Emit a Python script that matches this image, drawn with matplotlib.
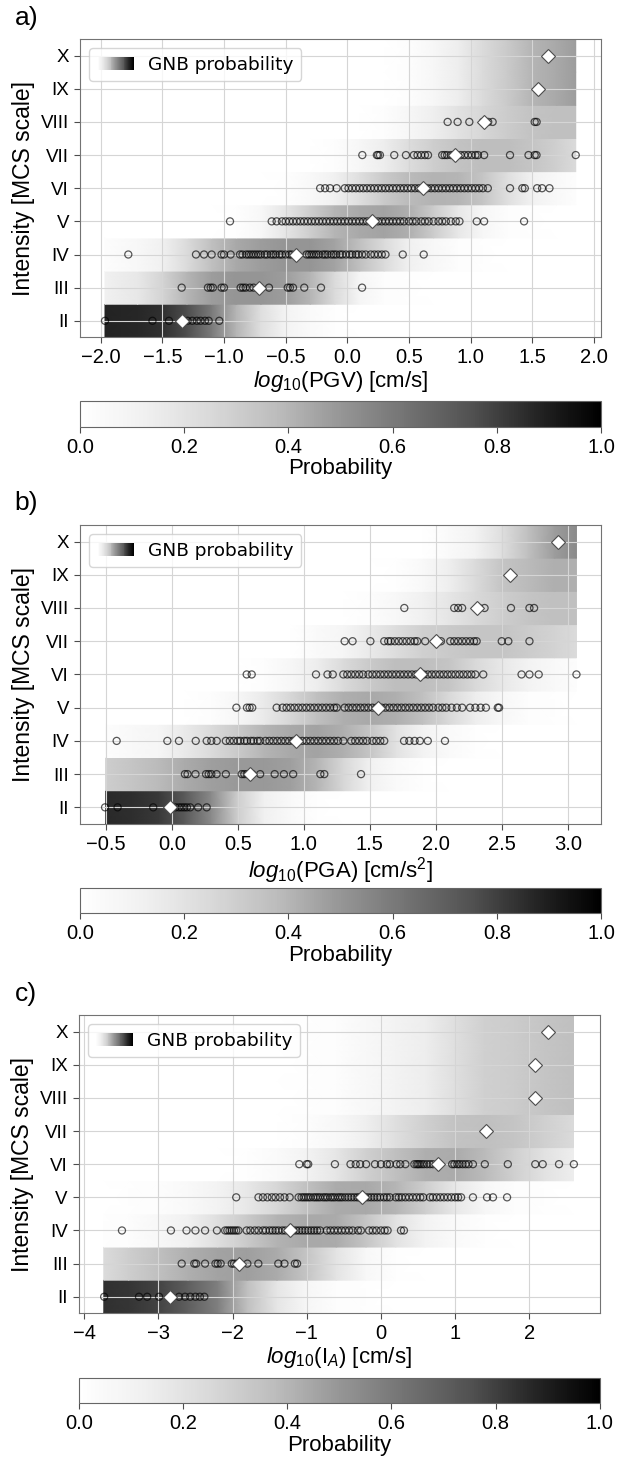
import numpy as np
import matplotlib
matplotlib.use('Agg')
import matplotlib.pyplot as plt
from matplotlib.patches import Rectangle
from matplotlib.legend_handler import HandlerBase
from matplotlib.cm import ScalarMappable
from matplotlib.colors import Normalize

plt.rcParams['font.family'] = ['Liberation Sans', 'DejaVu Sans']
plt.rcParams['mathtext.fontset'] = 'custom'
plt.rcParams['mathtext.rm'] = 'Liberation Sans'
plt.rcParams['mathtext.it'] = 'Liberation Sans:italic'

intensity = ['II', 'III', 'IV', 'V', 'VI', 'VII', 'VIII', 'IX', 'X']

# ---- a) PGV ----
pgv_grid = [-1.965, -1.7, -1.5, -1.3, -1.1, -0.9, -0.7, -0.5, -0.3, -0.1,
            0.1, 0.3, 0.5, 0.7, 0.9, 1.1, 1.3, 1.5, 1.7, 1.853]
pgv_prob = [
    [0.88, 0.87, 0.84, 0.76, 0.60, 0.40, 0.22, 0.09, 0.04, 0.01, 0, 0, 0, 0, 0, 0, 0, 0, 0, 0],
    [0.12, 0.17, 0.27, 0.40, 0.48, 0.50, 0.50, 0.48, 0.40, 0.24, 0.08, 0.02, 0.01, 0, 0, 0, 0, 0, 0, 0],
    [0.02, 0.06, 0.12, 0.24, 0.36, 0.44, 0.48, 0.50, 0.50, 0.46, 0.36, 0.24, 0.12, 0.06, 0.02, 0.01, 0, 0, 0, 0],
    [0, 0, 0, 0, 0, 0.01, 0.06, 0.18, 0.30, 0.40, 0.44, 0.46, 0.42, 0.31, 0.17, 0.07, 0.02, 0.01, 0, 0],
    [0, 0, 0, 0, 0, 0, 0, 0.01, 0.05, 0.12, 0.22, 0.32, 0.38, 0.41, 0.40, 0.34, 0.22, 0.11, 0.05, 0.02],
    [0, 0, 0, 0, 0, 0, 0, 0, 0, 0.02, 0.07, 0.14, 0.23, 0.30, 0.35, 0.37, 0.37, 0.34, 0.29, 0.24],
    [0, 0, 0, 0, 0, 0, 0, 0, 0, 0, 0, 0.02, 0.07, 0.13, 0.20, 0.26, 0.31, 0.35, 0.36, 0.36],
    [0, 0, 0, 0, 0, 0, 0, 0, 0, 0, 0, 0, 0.02, 0.07, 0.14, 0.24, 0.32, 0.40, 0.44, 0.48],
    [0, 0, 0, 0, 0, 0, 0, 0, 0, 0, 0, 0, 0.02, 0.07, 0.14, 0.24, 0.32, 0.40, 0.44, 0.48],
]
pgv_pts = [
    [-1.965, -1.58, -1.446, -1.295, -1.257, -1.22, -1.19, -1.154, -1.124, -1.038],
    [-1.343, -1.13, -1.108, -1.09, -1.02, -1.0, -0.865, -0.845, -0.824, -0.79, -0.76,
     -0.635, -0.483, -0.465, -0.44, -0.349, -0.213, 0.12],
    [-1.776, -1.227, -1.162, -1.10, -1.02, -1.0, -0.946, -0.87, -0.85, -0.82, -0.80, -0.78,
     -0.76, -0.74, -0.72, -0.70, -0.67, -0.65, -0.62, -0.60, -0.58, -0.55, -0.53, -0.50,
     -0.47, -0.45, -0.33, -0.31, -0.29, -0.27, -0.25, -0.23, -0.20, -0.18, -0.16, -0.13,
     -0.11, -0.09, -0.06, -0.04, -0.01, 0.02, 0.04, 0.07, 0.09, 0.12, 0.15, 0.19, 0.22,
     0.25, 0.28, 0.31, 0.45, 0.62],
    [-0.951, -0.613, -0.573, -0.53, -0.5, -0.47, -0.44, -0.41, -0.38, -0.35, -0.32, -0.29,
     -0.26, -0.23, -0.2, -0.17, -0.14, -0.11, -0.08, -0.05, -0.02, 0.01, 0.04, 0.07, 0.1,
     0.13, 0.16, 0.22, 0.25, 0.28, 0.31, 0.34, 0.37, 0.4, 0.43, 0.46, 0.5, 0.53, 0.56, 0.6,
     0.63, 0.66, 0.7, 0.74, 0.77, 0.8, 0.84, 0.88, 0.91, 1.05, 1.11, 1.434],
    [-0.22, -0.18, -0.14, -0.086, -0.02, 0.01, 0.04, 0.07, 0.1, 0.13, 0.16, 0.19, 0.22,
     0.25, 0.28, 0.31, 0.34, 0.37, 0.4, 0.43, 0.46, 0.49, 0.52, 0.55, 0.58, 0.65, 0.68,
     0.71, 0.74, 0.77, 0.8, 0.83, 0.86, 0.89, 0.92, 0.95, 0.98, 1.01, 1.04, 1.07, 1.1,
     1.14, 1.32, 1.42, 1.44, 1.54, 1.58, 1.64],
    [0.122, 0.24, 0.25, 0.265, 0.381, 0.476, 0.54, 0.57, 0.60, 0.63, 0.655, 0.77, 0.79,
     0.81, 0.84, 0.86, 0.89, 0.92, 0.95, 0.98, 1.01, 1.04, 1.06, 1.11, 1.32, 1.47, 1.52,
     1.535, 1.853],
    [0.814, 0.895, 0.99, 1.10, 1.143, 1.179, 1.52, 1.536],
    [],
    [],
]
pgv_mean = [-1.34, -0.714, -0.418, 0.198, 0.616, 0.87, 1.111, 1.546, 1.632]

# ---- b) PGA ----
pga_grid = [-0.5, -0.3, -0.1, 0.1, 0.3, 0.5, 0.7, 0.9, 1.1, 1.3, 1.5, 1.7, 1.9, 2.1,
            2.3, 2.5, 2.7, 2.9, 3.066]
pga_prob = [
    [0.86, 0.85, 0.82, 0.72, 0.54, 0.30, 0.12, 0.05, 0.01, 0, 0, 0, 0, 0, 0, 0, 0, 0, 0],
    [0.30, 0.34, 0.38, 0.43, 0.47, 0.49, 0.49, 0.47, 0.40, 0.26, 0.12, 0.04, 0.01, 0, 0, 0, 0, 0, 0],
    [0.02, 0.05, 0.08, 0.16, 0.24, 0.32, 0.40, 0.44, 0.46, 0.42, 0.34, 0.20, 0.10, 0.04, 0.01, 0, 0, 0, 0],
    [0, 0, 0, 0, 0.02, 0.07, 0.16, 0.26, 0.36, 0.42, 0.44, 0.42, 0.36, 0.25, 0.14, 0.06, 0.02, 0.01, 0],
    [0, 0, 0, 0, 0, 0, 0.02, 0.07, 0.14, 0.24, 0.32, 0.37, 0.37, 0.34, 0.25, 0.17, 0.10, 0.05, 0.02],
    [0, 0, 0, 0, 0, 0, 0, 0, 0.04, 0.08, 0.16, 0.23, 0.29, 0.32, 0.34, 0.34, 0.31, 0.28, 0.24],
    [0, 0, 0, 0, 0, 0, 0, 0, 0, 0, 0.02, 0.06, 0.12, 0.18, 0.25, 0.30, 0.34, 0.36, 0.36],
    [0, 0, 0, 0, 0, 0, 0, 0, 0, 0, 0, 0.01, 0.05, 0.13, 0.24, 0.34, 0.38, 0.42, 0.42],
    [0, 0, 0, 0, 0, 0, 0, 0, 0, 0, 0, 0, 0, 0.04, 0.10, 0.22, 0.36, 0.48, 0.54],
]
pga_pts = [
    [-0.505, -0.41, -0.14, -0.01, 0.03, 0.055, 0.075, 0.095, 0.115, 0.14, 0.2, 0.265],
    [0.10, 0.12, 0.18, 0.26, 0.28, 0.30, 0.34, 0.41, 0.53, 0.55, 0.57, 0.61, 0.67, 0.78,
     0.85, 0.92, 1.126, 1.156, 1.434],
    [-0.417, -0.033, 0.055, 0.182, 0.265, 0.30, 0.341, 0.41, 0.44, 0.47, 0.50, 0.52, 0.55,
     0.57, 0.60, 0.62, 0.65, 0.67, 0.71, 0.74, 0.77, 0.80, 0.83, 0.86, 0.89, 0.92, 0.96,
     0.99, 1.02, 1.05, 1.08, 1.11, 1.14, 1.17, 1.20, 1.23, 1.26, 1.30, 1.36, 1.39, 1.42,
     1.45, 1.48, 1.52, 1.55, 1.58, 1.61, 1.76, 1.80, 1.84, 1.88, 1.94, 2.07],
    [0.49, 0.57, 0.59, 0.61, 0.795, 0.84, 0.87, 0.90, 0.93, 0.96, 0.99, 1.02, 1.05, 1.08,
     1.11, 1.14, 1.17, 1.20, 1.23, 1.25, 1.31, 1.34, 1.37, 1.40, 1.43, 1.46, 1.49, 1.52,
     1.55, 1.59, 1.62, 1.65, 1.68, 1.71, 1.74, 1.77, 1.80, 1.83, 1.86, 1.89, 1.92, 1.95,
     1.98, 2.02, 2.05, 2.08, 2.12, 2.16, 2.20, 2.26, 2.30, 2.34, 2.38, 2.47, 2.48],
    [0.568, 0.606, 1.093, 1.18, 1.22, 1.30, 1.33, 1.36, 1.39, 1.42, 1.45, 1.49, 1.52, 1.55,
     1.58, 1.61, 1.64, 1.67, 1.70, 1.73, 1.76, 1.79, 1.82, 1.85, 1.91, 1.94, 1.97, 2.0,
     2.03, 2.06, 2.09, 2.12, 2.15, 2.18, 2.21, 2.24, 2.27, 2.30, 2.36, 2.65, 2.71, 2.78,
     3.066],
    [1.31, 1.37, 1.505, 1.61, 1.64, 1.66, 1.69, 1.72, 1.75, 1.78, 1.81, 1.84, 1.86, 1.92,
     2.04, 2.11, 2.14, 2.17, 2.20, 2.23, 2.26, 2.29, 2.31, 2.50, 2.55, 2.71],
    [1.762, 2.14, 2.17, 2.2, 2.33, 2.37, 2.57, 2.71, 2.745],
    [],
    [],
]
pga_mean = [-0.01, 0.593, 0.94, 1.56, 1.884, 2.0, 2.31, 2.56, 2.928]

# ---- c) Arias intensity ----
ia_grid = [-3.735, -3.4, -3.0, -2.6, -2.2, -1.8, -1.4, -1.0, -0.6, -0.2, 0.2, 0.6, 1.0,
           1.4, 1.8, 2.2, 2.595]
ia_prob = [
    [0.84, 0.83, 0.79, 0.70, 0.58, 0.36, 0.18, 0.07, 0.02, 0.01, 0, 0, 0, 0, 0, 0, 0],
    [0.24, 0.30, 0.36, 0.42, 0.46, 0.47, 0.43, 0.34, 0.19, 0.06, 0.01, 0, 0, 0, 0, 0, 0],
    [0.01, 0.02, 0.06, 0.12, 0.22, 0.32, 0.41, 0.44, 0.43, 0.34, 0.20, 0.10, 0.04, 0.01, 0, 0, 0],
    [0, 0.01, 0.02, 0.05, 0.10, 0.17, 0.26, 0.36, 0.43, 0.44, 0.40, 0.30, 0.17, 0.07, 0.02, 0.01, 0],
    [0, 0, 0, 0, 0, 0.01, 0.04, 0.10, 0.18, 0.29, 0.36, 0.42, 0.43, 0.38, 0.29, 0.20, 0.14],
    [0, 0, 0, 0, 0, 0, 0, 0.02, 0.06, 0.13, 0.22, 0.29, 0.35, 0.36, 0.34, 0.29, 0.24],
    [0, 0, 0, 0, 0, 0, 0, 0.01, 0.02, 0.06, 0.10, 0.14, 0.22, 0.29, 0.31, 0.34, 0.36],
    [0, 0, 0, 0, 0, 0, 0, 0.01, 0.02, 0.06, 0.10, 0.14, 0.22, 0.29, 0.31, 0.34, 0.36],
    [0, 0, 0, 0, 0, 0, 0, 0.01, 0.02, 0.06, 0.10, 0.14, 0.22, 0.29, 0.31, 0.34, 0.36],
]
ia_pts = [
    [-3.73, -3.26, -3.15, -2.99, -2.72, -2.64, -2.57, -2.5, -2.44, -2.38],
    [-2.685, -2.515, -2.49, -2.37, -2.23, -2.2, -2.16, -2.01, -1.98, -1.94, -1.8, -1.652,
     -1.383, -1.3, -1.16, -1.13],
    [-3.49, -2.83, -2.62, -2.5, -2.37, -2.21, -2.10, -2.07, -2.04, -2.01, -1.98, -1.95,
     -1.92, -1.81, -1.76, -1.70, -1.65, -1.59, -1.55, -1.50, -1.46, -1.42, -1.38, -1.33,
     -1.29, -1.18, -1.14, -1.10, -1.06, -1.02, -0.98, -0.94, -0.90, -0.86, -0.82, -0.73,
     -0.68, -0.63, -0.58, -0.53, -0.48, -0.43, -0.38, -0.31, -0.27, -0.16, -0.11, -0.06,
     0.0, 0.05, 0.09, 0.27, 0.31],
    [-1.95, -1.65, -1.59, -1.53, -1.47, -1.42, -1.36, -1.30, -1.23, -1.11, -1.07, -1.04,
     -1.01, -0.98, -0.95, -0.91, -0.88, -0.85, -0.82, -0.78, -0.75, -0.72, -0.68, -0.65,
     -0.62, -0.58, -0.55, -0.52, -0.48, -0.44, -0.40, -0.36, -0.32, -0.29, -0.21, -0.17,
     -0.13, -0.09, -0.05, -0.01, 0.04, 0.08, 0.12, 0.20, 0.24, 0.28, 0.33, 0.38, 0.43,
     0.48, 0.53, 0.57, 0.66, 0.70, 0.75, 0.80, 0.85, 0.90, 0.95, 1.0, 1.04, 1.08, 1.24,
     1.43, 1.51, 1.70],
    [-1.1, -1.0, -0.98, -0.62, -0.41, -0.34, -0.28, -0.2, -0.08, 0.0, 0.08, 0.12, 0.21,
     0.26, 0.33, 0.45, 0.48, 0.5, 0.52, 0.55, 0.58, 0.62, 0.66, 0.70, 0.96, 0.99, 1.03,
     1.06, 1.1, 1.14, 1.18, 1.24, 1.40, 1.71, 2.08, 2.18, 2.40, 2.60],
    [],
    [],
    [],
    [],
]
ia_mean = [-2.84, -1.91, -1.225, -0.254, 0.77, 1.41, 2.07, 2.07, 2.245]


class GradientHandler(HandlerBase):
    # draws the legend key as a white -> black strip
    def create_artists(self, legend, orig_handle, xdescent, ydescent, width, height,
                       fontsize, trans):
        cmap = plt.get_cmap('Greys')
        n = 40
        arts = []
        for i in range(n):
            r = Rectangle((-xdescent + i * width / n, -ydescent), width / n * 1.05, height,
                          facecolor=cmap(i / (n - 1)), edgecolor='none', transform=trans)
            arts.append(r)
        return arts


def draw_panel(ax, cax, grid_x, prob, pts, means, xlim, xticks, xlabel):
    for i in range(len(intensity)):
        p = np.array(prob[i], dtype=float)
        ax.pcolormesh(grid_x, [i - 0.5, i + 0.5], np.vstack([p, p]), shading='gouraud',
                      cmap='Greys', vmin=0, vmax=1, zorder=0.5)
        if len(pts[i]) > 0:
            ax.scatter(pts[i], [i] * len(pts[i]), s=26, facecolors='none',
                       edgecolors='k', linewidths=0.9, alpha=0.65, zorder=3)
    ax.plot(means, range(len(intensity)), 'D', ls='none', ms=7, mfc='white',
            mec='0.3', mew=0.8, zorder=4)

    ax.set_xlim(xlim)
    ax.set_ylim(-0.5, len(intensity) - 0.5)
    ax.set_yticks(range(len(intensity)))
    ax.set_yticklabels(intensity)
    ax.set_xticks(xticks)
    ax.grid(True, color='#d5d5d5', linewidth=0.8)
    ax.tick_params(axis='x', labelsize=14.5, length=4.5, width=0.8, color='0.3')
    ax.tick_params(axis='y', labelsize=13.5, length=4.5, width=0.8, color='0.3')
    for s in ax.spines.values():
        s.set_color('0.45')
        s.set_linewidth(0.8)
    ax.set_xlabel(xlabel, fontsize=16, labelpad=1)
    ax.set_ylabel('Intensity [MCS scale]', fontsize=16.5, labelpad=4)

    proxy = Rectangle((0, 0), 1, 1)
    ax.legend([proxy], ['GNB probability'], handler_map={proxy: GradientHandler()},
              loc='upper left', prop={'family': 'DejaVu Sans', 'size': 13.3})

    sm = ScalarMappable(norm=Normalize(0, 1), cmap='Greys')
    cb = plt.colorbar(sm, cax=cax, orientation='horizontal')
    cb.set_ticks([0.0, 0.2, 0.4, 0.6, 0.8, 1.0])
    cb.ax.tick_params(labelsize=14.5, length=4.5, width=0.8, color='0.3')
    cb.outline.set_edgecolor('0.4')
    cb.outline.set_linewidth(0.8)
    cb.set_label('Probability', fontsize=16, labelpad=1)


fig = plt.figure(figsize=(6.18, 14.63), dpi=100)

ax_a = fig.add_axes([0.1296, 0.7694, 0.8429, 0.2039])
cax_a = fig.add_axes([0.1296, 0.7083, 0.8429, 0.0176])
ax_b = fig.add_axes([0.1296, 0.4368, 0.8429, 0.2044])
cax_b = fig.add_axes([0.1296, 0.3757, 0.8429, 0.0171])
ax_c = fig.add_axes([0.1277, 0.1023, 0.8429, 0.2039])
cax_c = fig.add_axes([0.1277, 0.0408, 0.8429, 0.0171])

draw_panel(ax_a, cax_a, pgv_grid, pgv_prob, pgv_pts, pgv_mean, (-2.167, 2.058),
           [-2.0, -1.5, -1.0, -0.5, 0.0, 0.5, 1.0, 1.5, 2.0], r'$log_{10}$(PGV) [cm/s]')
draw_panel(ax_b, cax_b, pga_grid, pga_prob, pga_pts, pga_mean, (-0.694, 3.252),
           [-0.5, 0.0, 0.5, 1.0, 1.5, 2.0, 2.5, 3.0], r'$log_{10}$(PGA) [cm/s$^2$]')
draw_panel(ax_c, cax_c, ia_grid, ia_prob, ia_pts, ia_mean, (-4.07, 2.95),
           [-4, -3, -2, -1, 0, 1, 2], r'$log_{10}$(I$_A$) [cm/s]')

fig.text(15 / 618, 1 - 6 / 1463, 'a)', fontsize=19, va='top', ha='left')
fig.text(14 / 618, 1 - 491 / 1463, 'b)', fontsize=19, va='top', ha='left')
fig.text(15 / 618, 1 - 982 / 1463, 'c)', fontsize=19, va='top', ha='left')

fig.savefig('out.png', dpi=100)
